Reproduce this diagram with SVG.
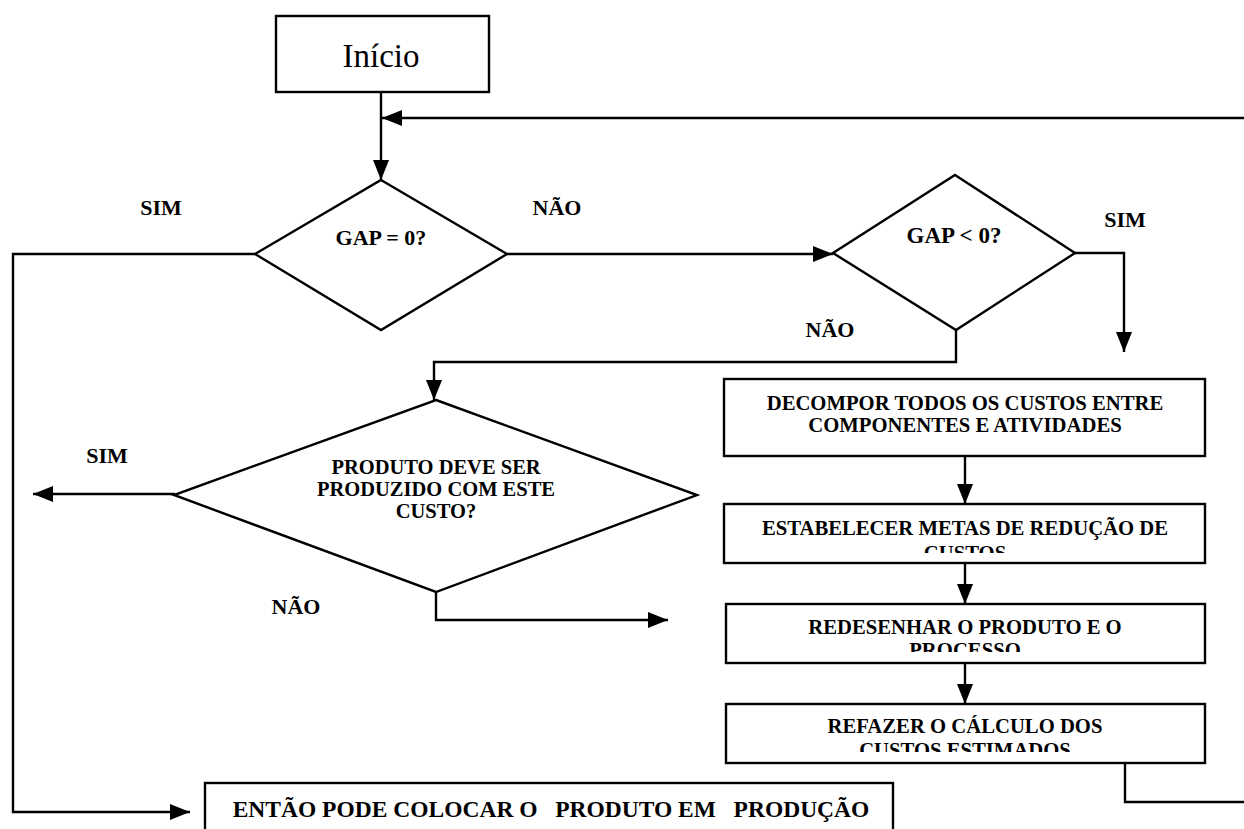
<svg xmlns="http://www.w3.org/2000/svg" width="1244" height="829" viewBox="0 0 1244 829">
<style>
.s{fill:#fff;stroke:#000;stroke-width:2.4}
.c{fill:none;stroke:#000;stroke-width:2.4}
.t{font-family:"Liberation Serif","Times New Roman",serif;font-weight:bold;fill:#000;text-anchor:middle}
.b{font-size:20.7px}
.l{font-family:"Liberation Serif","Times New Roman",serif;font-weight:bold;font-size:22px;fill:#000;text-anchor:middle}
</style>
<defs>
<marker id="h" viewBox="0 0 20 16" refX="20" refY="8" markerWidth="20" markerHeight="16" markerUnits="userSpaceOnUse" orient="auto">
<path d="M0,0 L20,8 L0,16 Z" fill="#000"/>
</marker>
<clipPath id="k2"><rect x="724" y="504" width="481" height="49"/></clipPath>
<clipPath id="k3"><rect x="726" y="604" width="479" height="48"/></clipPath>
<clipPath id="k4"><rect x="726" y="704" width="479" height="48"/></clipPath>
</defs>
<rect width="1244" height="829" fill="#fff"/>

<g id="connectors">
<path class="c" d="M381,92 V180" marker-end="url(#h)"/>
<path class="c" d="M1244,118 H382" marker-end="url(#h)"/>
<path class="c" d="M255,254 H13 V812 H190" marker-end="url(#h)"/>
<path class="c" d="M507,254 H833" marker-end="url(#h)"/>
<path class="c" d="M1075,253 H1124 V352" marker-end="url(#h)"/>
<path class="c" d="M956,330 V362 H434 V400" marker-end="url(#h)"/>
<path class="c" d="M175,494 H33" marker-end="url(#h)"/>
<path class="c" d="M436,592 V620 H668" marker-end="url(#h)"/>
<path class="c" d="M965,456 V504" marker-end="url(#h)"/>
<path class="c" d="M965,563 V604" marker-end="url(#h)"/>
<path class="c" d="M965,663 V704" marker-end="url(#h)"/>
<path class="c" d="M1125,763 V802 H1244"/>
</g>

<g id="inicio">
<rect class="s" x="276" y="16" width="213" height="76"/>
<text x="381" y="67" font-family="Liberation Serif, serif" font-size="33" text-anchor="middle">Início</text>
</g>

<g id="gap0">
<path class="s" d="M381,180 L507,254 L381,330 L255,254 Z"/>
<text class="t" x="381" y="245" font-size="22">GAP = 0?</text>
</g>

<g id="gapneg">
<path class="s" d="M955,175 L1075,253 L956,330 L833,253 Z"/>
<text class="t" x="954" y="243" font-size="23">GAP &lt; 0?</text>
</g>

<g id="produto">
<path class="s" d="M436,400 L697,495 L436,592 L174,495 Z"/>
<text class="t" x="436" y="474" font-size="20.5">PRODUTO DEVE SER</text>
<text class="t" x="436" y="496" font-size="20.5">PRODUZIDO COM ESTE</text>
<text class="t" x="436" y="518" font-size="20.5">CUSTO?</text>
</g>

<g id="decompor">
<rect class="s" x="724" y="379" width="481" height="77"/>
<text class="t b" x="965" y="410">DECOMPOR TODOS OS CUSTOS ENTRE</text>
<text class="t b" x="965" y="432">COMPONENTES E ATIVIDADES</text>
</g>

<g id="estabelecer">
<rect class="s" x="724" y="504" width="481" height="59"/>
<g clip-path="url(#k2)">
<text class="t b" x="965" y="535">ESTABELECER METAS DE REDUÇÃO DE</text>
<text class="t b" x="965" y="560">CUSTOS</text>
</g>
</g>

<g id="redesenhar">
<rect class="s" x="726" y="604" width="479" height="59"/>
<g clip-path="url(#k3)">
<text class="t b" x="965" y="634">REDESENHAR O PRODUTO E O</text>
<text class="t b" x="965" y="657">PROCESSO</text>
</g>
</g>

<g id="refazer">
<rect class="s" x="726" y="704" width="479" height="59"/>
<g clip-path="url(#k4)">
<text class="t b" x="965" y="733">REFAZER O CÁLCULO DOS</text>
<text class="t b" x="965" y="757">CUSTOS ESTIMADOS</text>
</g>
</g>

<g id="entao">
<rect class="s" x="205" y="783" width="688" height="60"/>
<text class="t" x="551" y="817" font-size="23.5" xml:space="preserve">ENTÃO PODE COLOCAR O   PRODUTO EM   PRODUÇÃO</text>
</g>

<g id="labels">
<text class="l" x="161" y="215">SIM</text>
<text class="l" x="557" y="215">NÃO</text>
<text class="l" x="1125" y="227">SIM</text>
<text class="l" x="830" y="337">NÃO</text>
<text class="l" x="107" y="463">SIM</text>
<text class="l" x="296" y="614">NÃO</text>
</g>
</svg>
